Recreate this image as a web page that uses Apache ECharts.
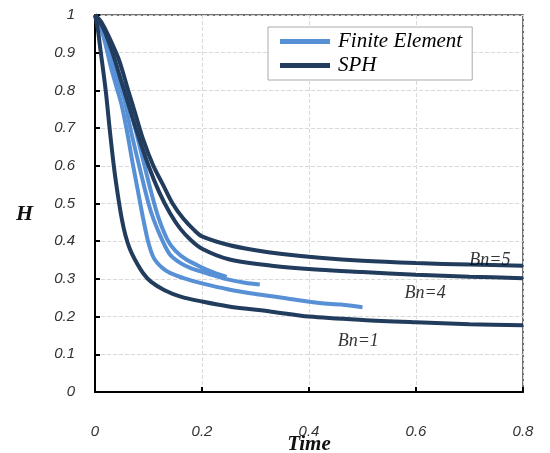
<!doctype html>
<html>
<head>
<meta charset="UTF-8">
<title>H vs Time</title>
<script src="https://cdn.jsdelivr.net/npm/echarts@6/dist/echarts.min.js"></script>
<style>
  html, body { margin: 0; padding: 0; background: #fff; }
  #chart { width: 550px; height: 453px; }
</style>
</head>
<body>
<div id="chart"></div>
<script>
// SPH curves [time, H]
var sphBn1 = [[0,1],[0.005,0.965],[0.01,0.91],[0.02,0.8],[0.028,0.69],[0.036,0.59],[0.043,0.52],[0.05,0.46],[0.057,0.415],[0.065,0.38],[0.075,0.35],[0.09,0.315],[0.105,0.292],[0.13,0.27],[0.16,0.253],[0.2,0.24],[0.25,0.227],[0.33,0.213],[0.4,0.2],[0.5,0.191],[0.6,0.185],[0.7,0.18],[0.8,0.177]];
var sphBn4 = [[0,1],[0.01,0.98],[0.02,0.95],[0.035,0.89],[0.05,0.82],[0.06,0.775],[0.075,0.705],[0.1,0.6],[0.12,0.53],[0.14,0.475],[0.16,0.432],[0.18,0.402],[0.2,0.38],[0.25,0.352],[0.33,0.335],[0.42,0.324],[0.5,0.318],[0.6,0.311],[0.7,0.306],[0.8,0.302]];
var sphBn5 = [[0,1],[0.01,0.985],[0.02,0.96],[0.03,0.93],[0.045,0.88],[0.062,0.8],[0.075,0.74],[0.09,0.67],[0.109,0.6],[0.127,0.55],[0.145,0.5],[0.165,0.46],[0.185,0.43],[0.2,0.413],[0.25,0.39],[0.3,0.376],[0.35,0.366],[0.42,0.356],[0.5,0.348],[0.6,0.342],[0.7,0.338],[0.8,0.335]];
// Finite element curves
var fe1 = [[0,1],[0.01,0.97],[0.02,0.92],[0.03,0.86],[0.04,0.81],[0.05,0.76],[0.06,0.69],[0.07,0.61],[0.08,0.535],[0.09,0.46],[0.1,0.395],[0.11,0.355],[0.125,0.33],[0.14,0.316],[0.17,0.3],[0.2,0.288],[0.25,0.272],[0.3,0.26],[0.35,0.25],[0.42,0.236],[0.46,0.232],[0.5,0.225]];
var fe2 = [[0,1],[0.01,0.975],[0.02,0.94],[0.03,0.89],[0.04,0.84],[0.055,0.775],[0.066,0.7],[0.08,0.615],[0.1,0.5],[0.11,0.456],[0.125,0.405],[0.14,0.365],[0.16,0.342],[0.18,0.328],[0.2,0.319],[0.22,0.31],[0.25,0.298],[0.28,0.29],[0.308,0.285]];
var fe3 = [[0,1],[0.01,0.978],[0.02,0.945],[0.03,0.9],[0.045,0.84],[0.062,0.775],[0.075,0.7],[0.09,0.615],[0.105,0.53],[0.118,0.465],[0.135,0.405],[0.15,0.375],[0.17,0.352],[0.2,0.33],[0.22,0.318],[0.246,0.305]];
// curve labels [time, H, text]
var bnLabels = [[0.738,0.35,'Bn=5'],[0.617,0.263,'Bn=4'],[0.492,0.135,'Bn=1']];

var dark = '#223c5e';
var light = '#5890d6';
var serif = '"Liberation Serif", "DejaVu Serif", serif';
var sans = '"Liberation Sans", Arial, sans-serif';

function curve(name, data, color) {
  return {
    name: name,
    type: 'line',
    data: data,
    smooth: 0.3,
    showSymbol: false,
    lineStyle: { color: color, width: 4 },
    itemStyle: { color: color },
    z: name == 'SPH' ? 3 : 2
  };
}

var chart = echarts.init(document.getElementById('chart'));
var option = {
  animation: false,
  backgroundColor: '#fff',
  grid: {
    left: 95, right: 27, top: 15, bottom: 61,
    outerBoundsMode: 'none',
    containLabel: false,
    show: true, borderColor: '#444', borderWidth: 1.5
  },
  legend: {
    data: ['Finite Element', 'SPH'],
    orient: 'vertical',
    left: 268, top: 27,
    padding: [4, 10, 4, 12],
    itemGap: 3,
    itemWidth: 50, itemHeight: 5,
    icon: 'rect',
    borderColor: '#aaa', borderWidth: 1,
    backgroundColor: '#fff',
    textStyle: { fontFamily: serif, fontStyle: 'italic', fontSize: 21, color: '#000', padding: [0, 0, 0, 3] }
  },
  xAxis: {
    type: 'value',
    min: 0, max: 0.8, interval: 0.2,
    name: 'Time',
    nameLocation: 'middle',
    nameGap: 42,
    nameMoveOverlap: false,
    nameTextStyle: { fontFamily: serif, fontStyle: 'italic', fontWeight: 'bold', fontSize: 21, color: '#111' },
    axisLine: { lineStyle: { color: '#000', width: 2 } },
    axisTick: { inside: true, length: 5, lineStyle: { color: '#000', width: 2 } },
    axisLabel: { margin: 32, fontFamily: sans, fontStyle: 'italic', fontSize: 15, color: '#333' },
    splitLine: { lineStyle: { color: '#d9d9d9', type: 'dashed' } }
  },
  yAxis: {
    type: 'value',
    min: 0, max: 1, interval: 0.1,
    name: 'H',
    nameLocation: 'middle',
    nameGap: 62,
    nameRotate: 0,
    nameMoveOverlap: false,
    nameTextStyle: { fontFamily: serif, fontStyle: 'italic', fontWeight: 'bold', fontSize: 22, color: '#111', verticalAlign: 'top' },
    axisLine: { show: true, lineStyle: { color: '#000', width: 2 } },
    axisTick: { show: true, inside: true, length: 5, lineStyle: { color: '#000', width: 2 } },
    axisLabel: { margin: 20, fontFamily: sans, fontStyle: 'italic', fontSize: 15, color: '#333' },
    splitLine: { lineStyle: { color: '#d9d9d9', type: 'dashed' } }
  },
  series: [
    curve('Finite Element', fe1, light),
    curve('Finite Element', fe2, light),
    curve('Finite Element', fe3, light),
    curve('SPH', sphBn1, dark),
    curve('SPH', sphBn4, dark),
    curve('SPH', sphBn5, dark),
    {
      type: 'scatter',
      data: bnLabels,
      symbolSize: 0,
      silent: true,
      label: {
        show: true,
        position: 'inside',
        formatter: function (p) { return p.value[2]; },
        fontFamily: serif, fontStyle: 'italic', fontSize: 18, color: '#000'
      },
      z: 5
    }
  ]
};
chart.setOption(option);
</script>
</body>
</html>
